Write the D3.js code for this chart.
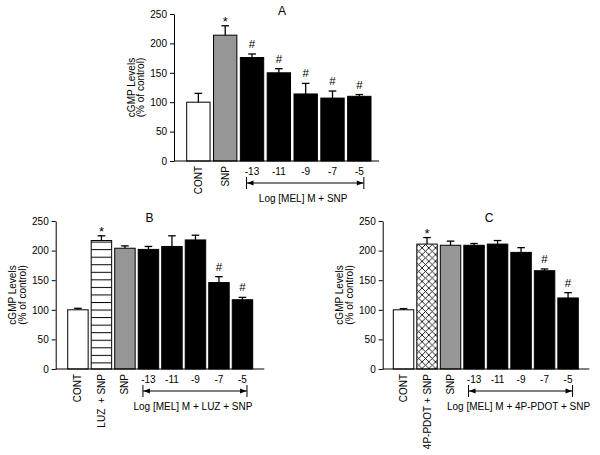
<!DOCTYPE html>
<html>
<head>
<meta charset="utf-8">
<script src="https://cdn.jsdelivr.net/npm/d3@7"></script>
<style>
  html, body { margin: 0; padding: 0; background: #fff; }
  svg { display: block; font-family: "Liberation Sans", Arial, sans-serif; }
</style>
</head>
<body>
<svg id="chart" width="600" height="455"></svg>
<script>
// ---------- data ----------
const yTicks = [0, 50, 100, 150, 200, 250];

const catsA = ["CONT", "SNP", "-13", "-11", "-9", "-7", "-5"];
const valuesA = [100, 214, 176, 150, 114, 107, 110];
const errorsA = [15, 16, 6, 7, 18, 12, 3];
const marksA = ["", "*", "#", "#", "#", "#", "#"];
const groupLabelA = "Log [MEL] M + SNP";

const catsB = ["CONT", "LUZ  + SNP", "SNP", "-13", "-11", "-9", "-7", "-5"];
const valuesB = [100, 217, 204, 202, 207, 218, 146, 117];
const errorsB = [2.5, 8, 4, 5, 18, 8, 10, 4];
const marksB = ["", "*", "", "", "", "", "#", "#"];
const groupLabelB = "Log [MEL] M + LUZ + SNP";

const catsC = ["CONT", "4P-PDOT + SNP", "SNP", "-13", "-11", "-9", "-7", "-5"];
const valuesC = [100, 211, 209, 209, 211, 197, 166, 120];
const errorsC = [2, 11, 7, 3, 6, 8, 3, 9];
const marksC = ["", "*", "", "", "", "", "#", "#"];
const groupLabelC = "Log [MEL] M + 4P-PDOT + SNP";

const yLabelLines = ["cGMP Levels", "(% of control)"];

// ---------- drawing ----------
const FS = 10;
const svg = d3.select("#chart");
svg.append("rect").attr("width", 600).attr("height", 455).attr("fill", "#fff");

const defs = svg.append("defs");
const hl = defs.append("pattern").attr("id", "hlines")
  .attr("patternUnits", "userSpaceOnUse").attr("width", 8).attr("height", 7.55);
hl.append("rect").attr("width", 8).attr("height", 7.55).attr("fill", "#fff");
hl.append("line").attr("x1", 0).attr("x2", 8).attr("y1", 0.5).attr("y2", 0.5)
  .attr("stroke", "#000").attr("stroke-width", 1);

const xh = defs.append("pattern").attr("id", "xhatch")
  .attr("patternUnits", "userSpaceOnUse").attr("width", 6.7).attr("height", 6.7);
xh.append("rect").attr("width", 6.7).attr("height", 6.7).attr("fill", "#fff");
xh.append("path").attr("d", "M0,0L6.7,6.7M6.7,0L0,6.7M-1,5.7L1,7.7M5.7,-1L7.7,1M-1,1L1,-1M5.7,7.7L7.7,5.7")
  .attr("stroke", "#000").attr("stroke-width", 0.85).attr("fill", "none");

function fillFor(cat) {
  if (cat === "CONT") return "#fff";
  if (cat === "SNP") return "#969696";
  if (cat.startsWith("LUZ")) return "url(#hlines)";
  if (cat.startsWith("4P")) return "url(#xhatch)";
  return "#000";
}

function drawPanel(p) {
  const g = svg.append("g");
  const y = d3.scaleLinear().domain([0, 250]).range([p.yBot, p.yTop]);
  const x = d3.scaleBand().domain(p.cats).range([p.barX0, p.barX1])
    .paddingInner(0.13).paddingOuter(0);

  // y axis
  const ya = g.append("g").attr("transform", `translate(${p.axisX0},0)`)
    .call(d3.axisLeft(y).tickValues(yTicks).tickSize(4).tickSizeOuter(0).tickPadding(3));
  ya.selectAll("text").attr("font-size", FS).attr("font-family", "Liberation Sans, Arial, sans-serif").attr("fill", "#000");
  ya.selectAll("line, path").attr("stroke", "#000");

  // bars
  g.selectAll("rect.bar").data(p.cats).join("rect")
    .attr("class", "bar")
    .attr("x", d => x(d))
    .attr("width", x.bandwidth())
    .attr("y", (d, i) => y(p.values[i]))
    .attr("height", (d, i) => y(0) - y(p.values[i]))
    .attr("fill", d => fillFor(d))
    .attr("stroke", "#000").attr("stroke-width", 1);

  // error bars
  p.cats.forEach((c, i) => {
    const cx = x(c) + x.bandwidth() / 2;
    const top = y(p.values[i] + p.errors[i]);
    g.append("line").attr("x1", cx).attr("x2", cx)
      .attr("y1", y(p.values[i])).attr("y2", top)
      .attr("stroke", "#000").attr("stroke-width", 1.3);
    g.append("line").attr("x1", cx - 3.8).attr("x2", cx + 3.8)
      .attr("y1", top).attr("y2", top)
      .attr("stroke", "#000").attr("stroke-width", 1.3);
    if (p.marks[i]) {
      const star = p.marks[i] === "*";
      g.append("text").attr("x", cx)
        .attr("y", top - (star ? 0 : 6))
        .attr("text-anchor", "middle").attr("font-size", star ? 13 : 11.5)
        .text(p.marks[i]);
    }
  });

  // x axis line
  g.append("line").attr("x1", p.axisX0).attr("x2", p.axisX1)
    .attr("y1", y(0)).attr("y2", y(0)).attr("stroke", "#000").attr("stroke-width", 1);

  // category labels
  p.cats.forEach(c => {
    const cx = x(c) + x.bandwidth() / 2;
    if (/^-\d+$/.test(c)) {
      g.append("text").attr("x", cx).attr("y", y(0) + 14)
        .attr("text-anchor", "middle").attr("font-size", FS).text(c);
    } else {
      g.append("text")
        .attr("transform", `translate(${cx + 3.5},${y(0) + 5}) rotate(-90)`)
        .attr("text-anchor", "end").attr("font-size", FS)
        .attr("xml:space", "preserve").style("white-space", "pre").text(c);
    }
  });

  // bracket
  const xl = x("-13") + x.bandwidth() / 2 - 5.5;
  const xr = x("-5") + x.bandwidth() / 2 + 4.5;
  const by = y(0) + 22;
  g.append("line").attr("x1", xl).attr("x2", xr).attr("y1", by).attr("y2", by)
    .attr("stroke", "#000").attr("stroke-width", 1);
  [xl, xr].forEach(xx => g.append("line").attr("x1", xx).attr("x2", xx)
    .attr("y1", by - 6).attr("y2", by + 6).attr("stroke", "#000").attr("stroke-width", 1));
  g.append("path").attr("d", `M${xl + 0.5},${by}L${xl + 7},${by - 2.5}L${xl + 7},${by + 2.5}Z`).attr("fill", "#000");
  g.append("path").attr("d", `M${xr - 0.5},${by}L${xr - 7},${by - 2.5}L${xr - 7},${by + 2.5}Z`).attr("fill", "#000");
  g.append("text").attr("x", (xl + xr) / 2 - 2).attr("y", y(0) + 40.5)
    .attr("text-anchor", "middle").attr("font-size", FS).text(p.groupLabel);

  // y label
  const ym = (p.yTop + p.yBot) / 2;
  yLabelLines.forEach((t, i) => {
    g.append("text")
      .attr("transform", `translate(${p.axisX0 - 43 + i * 9.5},${ym}) rotate(-90)`)
      .attr("text-anchor", "middle").attr("dy", "0.35em").attr("font-size", FS).text(t);
  });

  // title
  g.append("text").attr("x", p.titleX).attr("y", p.titleY)
    .attr("text-anchor", "middle").attr("font-size", 12).text(p.title);
}

drawPanel({ cats: catsA, values: valuesA, errors: errorsA, marks: marksA, groupLabel: groupLabelA,
  axisX0: 174, axisX1: 379, barX0: 186.7, barX1: 371, yTop: 14, yBot: 161,
  title: "A", titleX: 282, titleY: 15 });
drawPanel({ cats: catsB, values: valuesB, errors: errorsB, marks: marksB, groupLabel: groupLabelB,
  axisX0: 55.7, axisX1: 264.3, barX0: 67.7, barX1: 252.7, yTop: 221, yBot: 369,
  title: "B", titleX: 149.5, titleY: 221.5 });
drawPanel({ cats: catsC, values: valuesC, errors: errorsC, marks: marksC, groupLabel: groupLabelC,
  axisX0: 382.7, axisX1: 589.3, barX0: 393.3, barX1: 578.3, yTop: 221, yBot: 369,
  title: "C", titleX: 489, titleY: 221.5 });
</script>
</body>
</html>
